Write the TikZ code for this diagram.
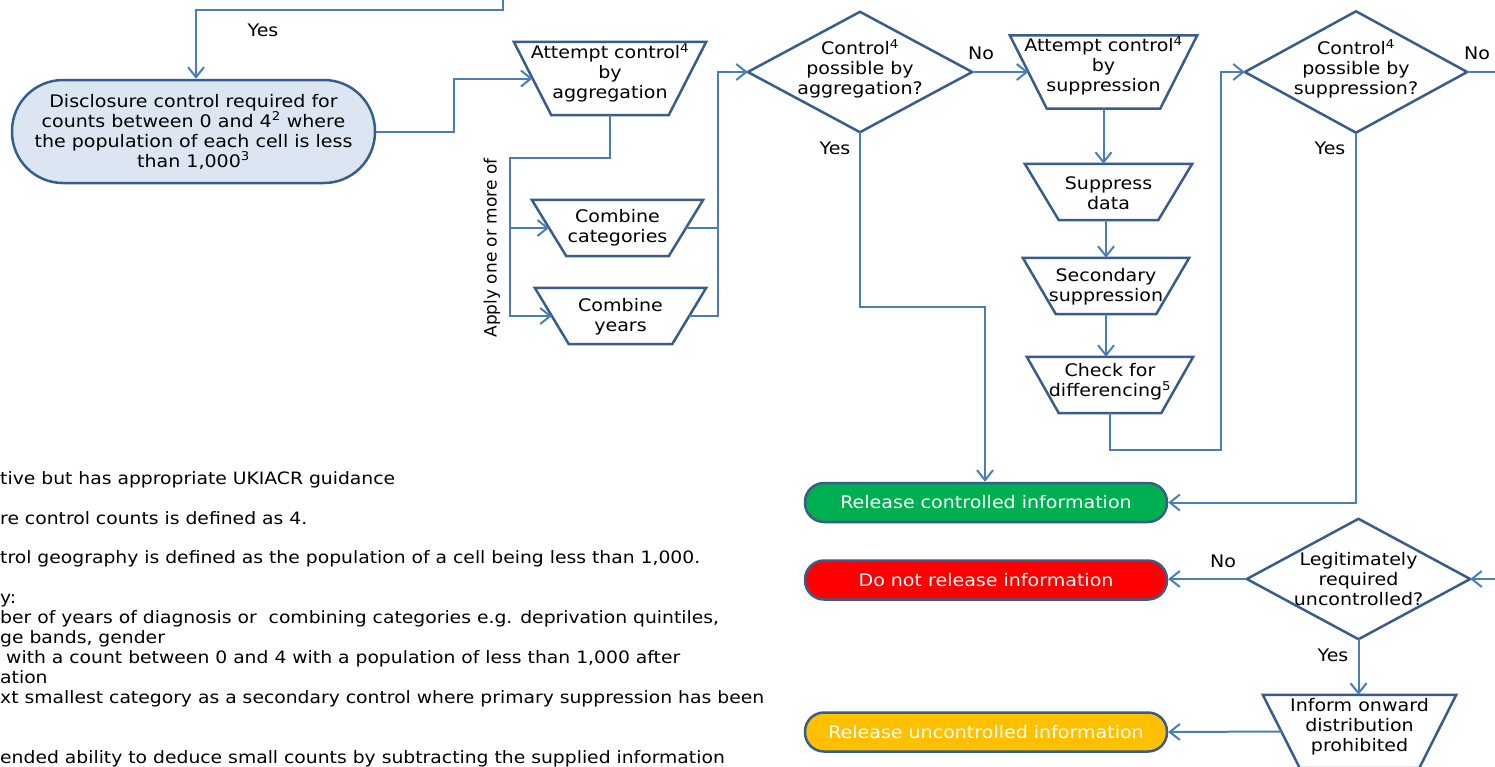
\documentclass[tikz,border=0pt]{standalone}
\usepackage{fontspec}
\setmainfont{DejaVu Sans}[FakeStretch=1.1]
\newfontfamily\plainsans{DejaVu Sans}
\usetikzlibrary{arrows.meta,calc}
\definecolor{edgeblue}{RGB}{56,93,138}
\definecolor{wireblue}{RGB}{74,126,187}
\definecolor{discfill}{RGB}{220,230,242}
\definecolor{relgreen}{RGB}{0,176,80}
\definecolor{relred}{RGB}{255,0,0}
\definecolor{relamber}{RGB}{255,192,0}
\begin{document}
\begin{tikzpicture}[x=1pt,y=-1pt,
  font=\fontsize{17.3}{20}\selectfont,
  tbox/.style 2 args={rectangle,inner sep=0pt,minimum width=#1,minimum height=#2},
  outline/.style={draw=edgeblue,line width=2.5pt,line join=miter},
  txt/.style={align=center,inner sep=0pt},
  lbl/.style={inner sep=0pt},
  term/.style 2 args={rectangle,inner sep=0pt,minimum width=#1,minimum height=#2,draw=edgeblue,line width=2.5pt},
  wire/.style={draw=wireblue,line width=2pt},
  conn/.style={draw=wireblue,line width=2pt,-{Straight Barb[length=10pt,width=16pt]}},
  foot/.style={anchor=base west,inner sep=0pt,font=\fontsize{17.05}{20}\selectfont}
]
\useasboundingbox (0,0) rectangle (1495,766);
\fill[white] (0,0) rectangle (1495,766);
\clip (0,0) rectangle (1495,766);

% ---------- terminals ----------
\node[term={363pt}{103pt},rounded corners=51pt,fill=discfill,align=center] (disc) at (193.5,131.5)
  {Disclosure control required for\\counts between 0 and 4\textsuperscript{2} where\\the population of each cell is less\\than 1,000\textsuperscript{3}};
\node[term={362pt}{39pt},rounded corners=19pt,fill=relgreen,text=white] (rel) at (986,502.5) {Release controlled information};
\node[term={362pt}{39pt},rounded corners=19pt,fill=relred,text=white] (dnr) at (986,580) {Do not release information};
\node[term={362pt}{39pt},rounded corners=19pt,fill=relamber,text=white] (unc) at (986,732) {Release uncontrolled information};

% ---------- trapezoid boxes ----------
\node[tbox={192pt}{73pt}] (agg) at (610,78.5) {};
\node[tbox={171pt}{56pt}] (cat) at (617.5,228) {};
\node[tbox={171pt}{56pt}] (yrs) at (620.5,316) {};
\node[tbox={187pt}{73pt}] (att) at (1103.5,72) {};
\node[tbox={167pt}{56pt}] (sup) at (1108.5,192) {};
\node[tbox={166pt}{56pt}] (sec) at (1106,286) {};
\node[tbox={166pt}{56pt}] (chk) at (1110,385) {};
\node[tbox={193pt}{73pt}] (inf) at (1359.5,731.5) {};
\foreach \n/\d in {agg/37.5,cat/34.5,yrs/34,att/37,sup/34,sec/33,chk/32,inf/37}
  \draw[outline] (\n.north west) -- (\n.north east) -- ($(\n.south east)+(-\d,0)$) -- ($(\n.south west)+(\d,0)$) -- cycle;

\node[txt] (aggt) at ($(agg)+(0,-5.5)$) {Attempt control\textsuperscript{4}\\by\\aggregation};
\node[txt] (catt) at (cat) {Combine\\categories};
\node[txt] (yrst) at ($(yrs)+(0,1)$) {Combine\\years};
\node[txt] (attt) at ($(att)+(0,-6)$) {Attempt control\textsuperscript{4}\\by\\suppression};
\node[txt] (supt) at ($(sup)+(0,1.5)$) {Suppress\\data};
\node[txt] (sect) at ($(sec)+(0,1)$) {Secondary\\suppression};
\node[txt] (chkt) at ($(chk)+(0,-3)$) {Check for\\differencing\textsuperscript{5}};
\node[txt] (inft) at ($(inf)+(0,-4.5)$) {Inform onward\\distribution\\prohibited};

% ---------- decisions ----------
\node[tbox={224pt}{120pt}] (d1) at (860,72) {};
\node[tbox={222pt}{121pt}] (d2) at (1356,72) {};
\node[tbox={223pt}{120pt}] (d3) at (1358.5,579) {};
\foreach \n in {d1,d2,d3}
  \draw[outline] (\n.west) -- (\n.north) -- (\n.east) -- (\n.south) -- cycle;
\node[txt] (d1t) at ($(d1)+(0,-3)$) {Control\textsuperscript{4}\\possible by\\aggregation?};
\node[txt] (d2t) at ($(d2)+(0,-3)$) {Control\textsuperscript{4}\\possible by\\suppression?};
\node[txt] (d3t) at (d3) {Legitimately\\required\\uncontrolled?};

% ---------- connectors ----------
\coordinate (topsrc) at (503,0);
\draw[conn] (topsrc) -- ++(0,10) -| ([xshift=2.5pt]disc.north);
\draw[conn] (disc.east) -- ++(78,0) |- ($(agg.west)+(18.75,0)$);
\draw[conn] (agg.south) |- (510,158) |- ($(yrs.west)+(17,0)$);
\draw[conn] (510,228) -- ($(cat.west)+(17.25,0)$);
\draw[wire] ($(cat.east)+(-17.25,0)$) -- (718,228);
\draw[conn] ($(yrs.east)+(-17,0)$) -| (718,72) -- (d1.west);
\draw[conn] (d1.east) -- ($(att.west)+(18.5,0)$);
\draw[conn] (d1.south) |- ($(rel.north)+(-1,-175)$) -- ([xshift=-1pt]rel.north);
\draw[conn] (att.south) -- (att.south |- sup.north);
\draw[conn] (sec.north |- sup.south) -- (sec.north);
\draw[conn] (sec.south) -- (sec.south |- chk.north);
\draw[conn] (chk.south) |- (1221,450) |- (d2.west);
\coordinate (exitR) at (1495,72);
\draw[wire] (d2.east) -- (exitR);
\draw[conn] (d2.south) |- (rel.east);
\coordinate (entryR) at (1495,579);
\draw[conn] (entryR) -- (d3.east);
\draw[conn] (d3.west) -- (d3.west -| dnr.east);
\draw[conn] (d3.south) -- (d3.south |- inf.north);
\draw[conn] ($(inf.west)+(18.5,0)$) -- (unc.east);

% ---------- labels ----------
\node[lbl] (l1) at (263,30) {Yes};
\node[lbl] (l2) at (981,53) {No};
\node[lbl] (l3) at (835,148) {Yes};
\node[lbl] (l4) at (1477,53) {No};
\node[lbl] (l5) at (1330,148) {Yes};
\node[lbl] (l6) at (1223,561) {No};
\node[lbl] (l7) at (1333,655) {Yes};
\node[lbl,rotate=90,font=\plainsans\fontsize{17}{20}\selectfont] (apply) at (492,248) {Apply one or more of};

% ---------- footnotes ----------
\node[foot] (f1) at (0,484) {tive but has appropriate UKIACR guidance};
\node[foot] (f2) at (0,524) {re control counts is defined as 4.};
\node[foot] (f3) at (0,563) {trol geography is defined as the population of a cell being less than 1,000.};
\node[foot] (f4) at (0,603) {y:};
\node[foot] (f5) at (0,623) {ber of years of diagnosis or~ combining categories e.g. deprivation quintiles,};
\node[foot] (f6) at (0,643) {ge bands, gender};
\node[foot] (f7) at (6,663) {with a count between 0 and 4 with a population of less than 1,000 after};
\node[foot] (f8) at (0,683) {ation};
\node[foot] (f9) at (0,703) {xt smallest category as a secondary control where primary suppression has been};
\node[foot] (f10) at (0,763) {ended ability to deduce small counts by subtracting the supplied information};
\end{tikzpicture}
\end{document}
